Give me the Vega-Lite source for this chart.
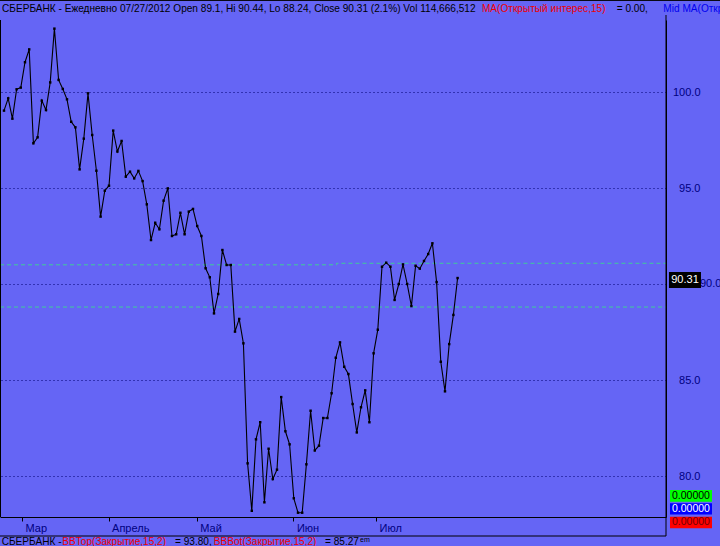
{
  "$schema": "https://vega.github.io/schema/vega-lite/v6.json",
  "width": 666,
  "height": 497,
  "autosize": {"type": "none"},
  "padding": {"top": 20, "left": 0, "right": 54, "bottom": 29},
  "background": "#6565F5",
  "config": {"view": {"stroke": null}, "font": "Liberation Sans", "text": {"font": "Liberation Sans"}},
  "datasets": {
    "close": [
      {"i":0,"v":99.03},{"i":1,"v":99.67},{"i":2,"v":98.61},{"i":3,"v":100.14},{"i":4,"v":100.23},
      {"i":5,"v":101.55},{"i":6,"v":102.22},{"i":7,"v":97.33},{"i":8,"v":97.64},{"i":9,"v":99.55},
      {"i":10,"v":99.06},{"i":11,"v":100.5},{"i":12,"v":103.3},{"i":13,"v":100.63},{"i":14,"v":100.16},
      {"i":15,"v":99.62},{"i":16,"v":98.45},{"i":17,"v":98.16},{"i":18,"v":95.97},{"i":19,"v":97.57},
      {"i":20,"v":99.93},{"i":21,"v":97.76},{"i":22,"v":95.9},{"i":23,"v":93.51},{"i":24,"v":94.86},
      {"i":25,"v":95.12},{"i":26,"v":97.99},{"i":27,"v":96.9},{"i":28,"v":97.45},{"i":29,"v":95.59},
      {"i":30,"v":95.85},{"i":31,"v":95.5},{"i":32,"v":95.89},{"i":33,"v":95.36},{"i":34,"v":94.15},
      {"i":35,"v":92.29},{"i":36,"v":93.19},{"i":37,"v":92.85},{"i":38,"v":94.34},{"i":39,"v":94.98},
      {"i":40,"v":92.5},{"i":41,"v":92.59},{"i":42,"v":93.71},{"i":43,"v":92.59},{"i":44,"v":93.77},
      {"i":45,"v":93.91},{"i":46,"v":93.02},{"i":47,"v":92.5},{"i":48,"v":90.82},{"i":49,"v":90.35},
      {"i":50,"v":88.47},{"i":51,"v":89.48},{"i":52,"v":91.77},{"i":53,"v":90.99},{"i":54,"v":90.99},
      {"i":55,"v":87.52},{"i":56,"v":88.18},{"i":57,"v":86.91},{"i":58,"v":80.66},{"i":59,"v":78.19},
      {"i":60,"v":81.91},{"i":61,"v":82.8},{"i":62,"v":78.63},{"i":63,"v":81.42},{"i":64,"v":79.84},
      {"i":65,"v":80.33},{"i":66,"v":84.11},{"i":67,"v":82.33},{"i":68,"v":81.65},{"i":69,"v":78.84},
      {"i":70,"v":78.09},{"i":71,"v":78.09},{"i":72,"v":80.61},{"i":73,"v":83.4},{"i":74,"v":81.33},
      {"i":75,"v":81.58},{"i":76,"v":83.02},{"i":77,"v":83.02},{"i":78,"v":84.31},{"i":79,"v":86.16},
      {"i":80,"v":86.96},{"i":81,"v":85.69},{"i":82,"v":85.31},{"i":83,"v":83.75},{"i":84,"v":82.27},
      {"i":85,"v":83.58},{"i":86,"v":84.46},{"i":87,"v":82.8},{"i":88,"v":86.39},{"i":89,"v":87.62},
      {"i":90,"v":90.9},{"i":91,"v":91.11},{"i":92,"v":90.9},{"i":93,"v":89.17},{"i":94,"v":90.0},
      {"i":95,"v":91.02},{"i":96,"v":90.0},{"i":97,"v":88.85},{"i":98,"v":90.95},{"i":99,"v":90.8},
      {"i":100,"v":91.2},{"i":101,"v":91.56},{"i":102,"v":92.12},{"i":103,"v":90.1},{"i":104,"v":85.95},
      {"i":105,"v":84.41},{"i":106,"v":86.87},{"i":107,"v":88.39},{"i":108,"v":90.31}
    ],
    "bands": [
      {"i":-0.952,"v":91.0,"g":"upper"},{"i":79.2,"v":91.0,"g":"upper"},
      {"i":79.2,"v":91.08,"g":"upper"},{"i":157.62,"v":91.08,"g":"upper"},
      {"i":-0.952,"v":88.8,"g":"lower"},{"i":157.62,"v":88.8,"g":"lower"}
    ]
  },
  "encoding": {
    "x": {
      "type": "quantitative",
      "scale": {"domain": [-0.952, 157.62], "nice": false, "zero": false},
      "title": null,
      "axis": {
        "title": null, "grid": false,
        "values": [4.3, 24.9, 45.9, 68.9, 88.6],
        "labelExpr": "datum.value < 10 ? 'Мар' : datum.value < 30 ? 'Апрель' : datum.value < 50 ? 'Май' : datum.value < 75 ? 'Июн' : 'Июл'",
        "domainColor": "#000000", "tickColor": "#000000", "tickSize": 4,
        "labelAlign": "left", "labelOffset": 3, "labelBaseline": "top", "labelPadding": 1,
        "labelColor": "#000080", "labelFontSize": 11, "labelFont": "Liberation Sans",
        "labelFlush": false, "labelOverlap": false
      }
    },
    "y": {
      "type": "quantitative",
      "scale": {"domain": [77.865, 103.75], "nice": false, "zero": false},
      "title": null,
      "axis": {
        "title": null, "orient": "right",
        "values": [80, 85, 90, 95, 100],
        "labelExpr": "datum.value == 90 ? '' : format(datum.value, '.1f')",
        "grid": true, "gridDash": [1, 3], "gridColor": "#000070", "gridWidth": 1,
        "ticks": false, "domainColor": "#000000",
        "labelAlign": "right", "labelPadding": 34,
        "labelColor": "#000080", "labelFontSize": 11, "labelFont": "Liberation Sans"
      }
    }
  },
  "layer": [
    {
      "data": {"name": "bands"},
      "mark": {"type": "line", "color": "#3FCB9A", "strokeWidth": 1, "strokeDash": [4, 3]},
      "encoding": {
        "x": {"field": "i", "type": "quantitative"},
        "y": {"field": "v", "type": "quantitative"},
        "detail": {"field": "g"}
      }
    },
    {
      "data": {"name": "close"},
      "mark": {"type": "line", "color": "#000000", "strokeWidth": 1.1},
      "encoding": {
        "x": {"field": "i", "type": "quantitative"},
        "y": {"field": "v", "type": "quantitative"}
      }
    },
    {
      "data": {"name": "close"},
      "mark": {"type": "point", "shape": "square", "filled": true, "size": 6, "color": "#000000", "opacity": 1},
      "encoding": {
        "x": {"field": "i", "type": "quantitative"},
        "y": {"field": "v", "type": "quantitative"}
      }
    },
    {
      "data": {"values": [{}]},
      "layer": [
        {"mark": {"type": "rule", "color": "#000000"}, "encoding": {"x": {"datum": 157.62}, "y": {"datum": 104.01}, "y2": {"datum": 76.875}}},
        {"mark": {"type": "rule", "color": "#000000"}, "encoding": {"x": {"datum": -0.952}, "x2": {"datum": 157.62}, "y": {"datum": 76.875}}},
        {"mark": {"type": "rule", "color": "#000000"}, "encoding": {"x": {"datum": -0.83}, "y": {"datum": 103.75}, "y2": {"datum": 77.865}}},
        {"mark": {"type": "rule", "color": "#000000"}, "encoding": {"x": {"datum": -0.952}, "x2": {"datum": 170.5}, "y": {"datum": 104.77}}},
        {"mark": {"type": "rect", "color": "#00FF00"}, "encoding": {"x": {"datum": 158.57}, "x2": {"datum": 168.57}, "y": {"datum": 79.27}, "y2": {"datum": 78.66}}},
        {"mark": {"type": "rect", "color": "#0000FF"}, "encoding": {"x": {"datum": 158.57}, "x2": {"datum": 168.57}, "y": {"datum": 78.58}, "y2": {"datum": 78.0}}},
        {"mark": {"type": "rect", "color": "#FF0000"}, "encoding": {"x": {"datum": 158.57}, "x2": {"datum": 168.57}, "y": {"datum": 77.88}, "y2": {"datum": 77.28}}},
        {"mark": {"type": "text", "text": "0.00000", "color": "#000000", "fontSize": 10.5, "align": "center", "baseline": "middle"}, "encoding": {"x": {"datum": 163.57}, "y": {"datum": 78.965}}},
        {"mark": {"type": "text", "text": "0.00000", "color": "#FFFFFF", "fontSize": 10.5, "align": "center", "baseline": "middle"}, "encoding": {"x": {"datum": 163.57}, "y": {"datum": 78.29}}},
        {"mark": {"type": "text", "text": "0.00000", "color": "#700000", "fontSize": 10.5, "align": "center", "baseline": "middle"}, "encoding": {"x": {"datum": 163.57}, "y": {"datum": 77.58}}},
        {"mark": {"type": "text", "text": "90.0", "color": "#000080", "fontSize": 11, "align": "left", "baseline": "middle"}, "encoding": {"x": {"datum": 165.71}, "y": {"datum": 90.0}}},
        {"mark": {"type": "rect", "color": "#000000"}, "encoding": {"x": {"datum": 158.33}, "x2": {"datum": 165.95}, "y": {"datum": 90.625}, "y2": {"datum": 89.79}}},
        {"mark": {"type": "text", "text": "90.31", "color": "#FFFFFF", "fontSize": 11, "align": "center", "baseline": "middle"}, "encoding": {"x": {"datum": 162.14}, "y": {"datum": 90.21}}},
        {"mark": {"type": "text", "text": "СБЕРБАНК - Ежедневно 07/27/2012 Open 89.1, Hi 90.44, Lo 88.24, Close 90.31 (2.1%) Vol 114,666,512", "color": "#000000", "fontSize": 10.1, "align": "left", "baseline": "alphabetic"}, "encoding": {"x": {"datum": -0.476}, "y": {"datum": 104.167}}},
        {"mark": {"type": "text", "text": "MA(Открытый интерес,15)", "color": "#F00000", "fontSize": 10.1, "align": "left", "baseline": "alphabetic"}, "encoding": {"x": {"datum": 113.8}, "y": {"datum": 104.167}}},
        {"mark": {"type": "text", "text": "= 0.00,", "color": "#000000", "fontSize": 10.1, "align": "left", "baseline": "alphabetic"}, "encoding": {"x": {"datum": 145.88}, "y": {"datum": 104.167}}},
        {"mark": {"type": "text", "text": "Mid MA(Открытый интерес,15)", "color": "#0000F0", "fontSize": 10.1, "align": "left", "baseline": "alphabetic"}, "encoding": {"x": {"datum": 156.98}, "y": {"datum": 104.167}}},
        {"mark": {"type": "text", "text": "СБЕРБАНК -", "color": "#000000", "fontSize": 10.1, "align": "left", "baseline": "alphabetic"}, "encoding": {"x": {"datum": -0.548}, "y": {"datum": 76.43}}},
        {"mark": {"type": "text", "text": "BBTop(Закрытие,15,2)", "color": "#F00000", "fontSize": 10.1, "align": "left", "baseline": "alphabetic"}, "encoding": {"x": {"datum": 13.88}, "y": {"datum": 76.43}}},
        {"mark": {"type": "text", "text": "= 93.80,", "color": "#000000", "fontSize": 10.1, "align": "left", "baseline": "alphabetic"}, "encoding": {"x": {"datum": 40.71}, "y": {"datum": 76.43}}},
        {"mark": {"type": "text", "text": "BBBot(Закрытие,15,2)", "color": "#F00000", "fontSize": 10.1, "align": "left", "baseline": "alphabetic"}, "encoding": {"x": {"datum": 49.95}, "y": {"datum": 76.43}}},
        {"mark": {"type": "text", "text": "= 85.27", "color": "#000000", "fontSize": 10.1, "align": "left", "baseline": "alphabetic"}, "encoding": {"x": {"datum": 76.43}, "y": {"datum": 76.43}}},
        {"mark": {"type": "text", "text": "em", "color": "#000000", "fontSize": 7, "align": "left", "baseline": "alphabetic"}, "encoding": {"x": {"datum": 84.76}, "y": {"datum": 76.56}}}
      ]
    }
  ]
}
